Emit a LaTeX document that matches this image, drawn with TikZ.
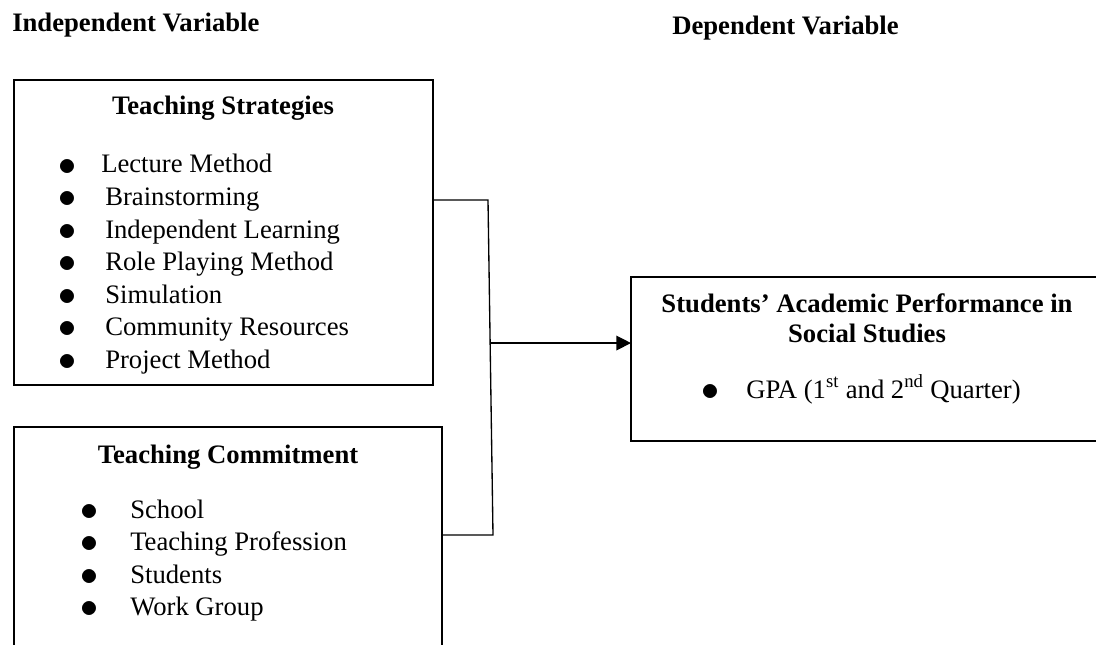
\documentclass[tikz,border=0pt]{standalone}
\usepackage{fontspec}
\setmainfont{Liberation Serif}
\usetikzlibrary{positioning}
\usetikzlibrary{calc}
\usetikzlibrary{arrows.meta}
\tikzset{
    side/.style={line width=1.5pt},
    link/.style={line width=1pt},
    frame/.style={inner sep=0pt, outer sep=0pt},
    title/.style={inner sep=0pt, font=\fontsize{20}{22.5}\selectfont\bfseries},
    list/.style={inner sep=0pt, anchor=base west, font=\fontsize{20}{24.4}\selectfont},
}
\newcommand{\dotitem}{\raisebox{-1.7pt}{\scalebox{1.3}{$\bullet$}}}

\begin{document}
\begin{tikzpicture}[x=0.75pt, y=-0.75pt]
            \useasboundingbox (0,0) rectangle (1096,645);

            \node (iv) [title, anchor=base west] at (12,32) {Independent Variable};
            \node (dv) [title, anchor=base west] at (672,35) {Dependent Variable};

            % the three boxes (the picture cuts the last two)
            \node (strat)  [frame, draw, side, minimum width=314.25pt, minimum height=228.75pt] at (223.5,232.5) {};
            \node (commit) [frame, minimum width=321pt, minimum height=163.5pt] at (228,536) {};
            \node (perf)   [frame, minimum width=348.75pt, minimum height=123pt] at (863.5,359) {};
            \draw[side] (commit.south west) -- (commit.north west) -- (commit.north east) -- (commit.south east);
            \draw[side] (perf.north east) -- (perf.north west) -- (perf.south west) -- (perf.south east);

            \node (strathead) [title, anchor=base] at (223,115) {Teaching Strategies};
            \node (stratlist) [list] at (58,173) {\begin{tabular}[t]{@{}p{35.25pt}@{}l@{}}
                \dotitem & \hspace{-3pt}Lecture Method\\
                \dotitem & Brainstorming\\
                \dotitem & Independent Learning\\
                \dotitem & Role Playing Method\\
                \dotitem & Simulation\\
                \dotitem & Community Resources\\
                \dotitem & Project Method
            \end{tabular}};

            \node (commithead) [title, anchor=base] at (228,463) {Teaching Commitment};
            \node (commitlist) [list] at (80,518) {\begin{tabular}[t]{@{}p{37.5pt}@{}l@{}}
                \dotitem & School\\
                \dotitem & Teaching Profession\\
                \dotitem & Students\\
                \dotitem & Work Group
            \end{tabular}};

            \node (perfhead) [title, align=center, anchor=base] at (867,343) {Students’ Academic Performance in\\Social Studies};
            \node (perflist) [list] at (701,398) {\begin{tabular}[t]{@{}p{33.75pt}@{}l@{}}
                \dotitem & GPA (1\textsuperscript{st} and 2\textsuperscript{nd} Quarter)
            \end{tabular}};

            % joining line
            \coordinate (jtop) at (488,200);
            \coordinate (jbot) at (493,535);
            \coordinate (jmid) at ($(jtop)!0.427!(jbot)$);
            \draw[link] (strat.east |- jtop) -- (jtop) -- (jbot) -- (commit.east |- jbot);
            \draw[link, -{Triangle[length=11pt, width=11pt]}] (jmid) -- (jmid -| perf.west);
        \end{tikzpicture}
\end{document}
